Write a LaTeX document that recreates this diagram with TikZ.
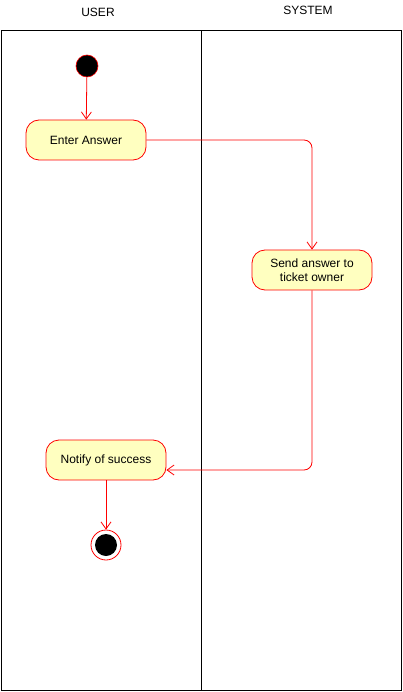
\documentclass[tikz,border=0pt]{standalone}
\usepackage{fontspec}
\setmainfont{Liberation Sans}
\usetikzlibrary{arrows.meta,calc}
\definecolor{actfill}{HTML}{FFFFC0}
\definecolor{actred}{HTML}{FF0000}
\begin{document}
\begin{tikzpicture}[x=1pt,y=-1pt,
  act/.style={draw=actred, fill=actfill, rounded corners=13pt, minimum width=120pt, minimum height=40pt, inner sep=2pt, align=center, font=\fontsize{12}{14}\selectfont, line width=0.8pt},
  flow/.style={draw=actred, line width=0.8pt, -{Straight Barb[length=7pt,width=10pt]}},
  lane/.style={draw=black, line width=1pt},
  lanelabel/.style={font=\fontsize{12}{14}\selectfont}]
\useasboundingbox (0,0) rectangle (403,692);
\draw[lane] (1,31) rectangle (401,690);
\draw[lane] (201,31) -- (201,690);
\node[lanelabel] (luser) at (98,12) {USER};
\node[lanelabel] (lsys) at (308,10) {SYSTEM};
\node[circle, fill=black, draw=actred, line width=0.6pt, minimum size=22pt, inner sep=0pt] (start) at (87,66) {};
\node[act] (enter) at (86,140) {Enter Answer};
\node[act] (send) at (312,270) {Send answer to\\ticket owner};
\node[act] (notify) at (106,460) {Notify of success};
\node[circle, draw=actred, fill=white, line width=0.8pt, minimum size=30pt, inner sep=0pt] (endo) at (106,545) {};
\node[circle, fill=black, minimum size=22pt, inner sep=0pt] (endi) at (106,545) {};
\coordinate (nin) at ($(notify.east)+(0,10)$);
\draw[flow] (start) -- (enter);
\draw[flow, rounded corners=8pt] (enter.east) -- (send.north |- enter.east) -- (send.north);
\draw[flow, rounded corners=8pt] (send.south) |- (nin);
\draw[flow] (notify) -- (endo);
\end{tikzpicture}
\end{document}
